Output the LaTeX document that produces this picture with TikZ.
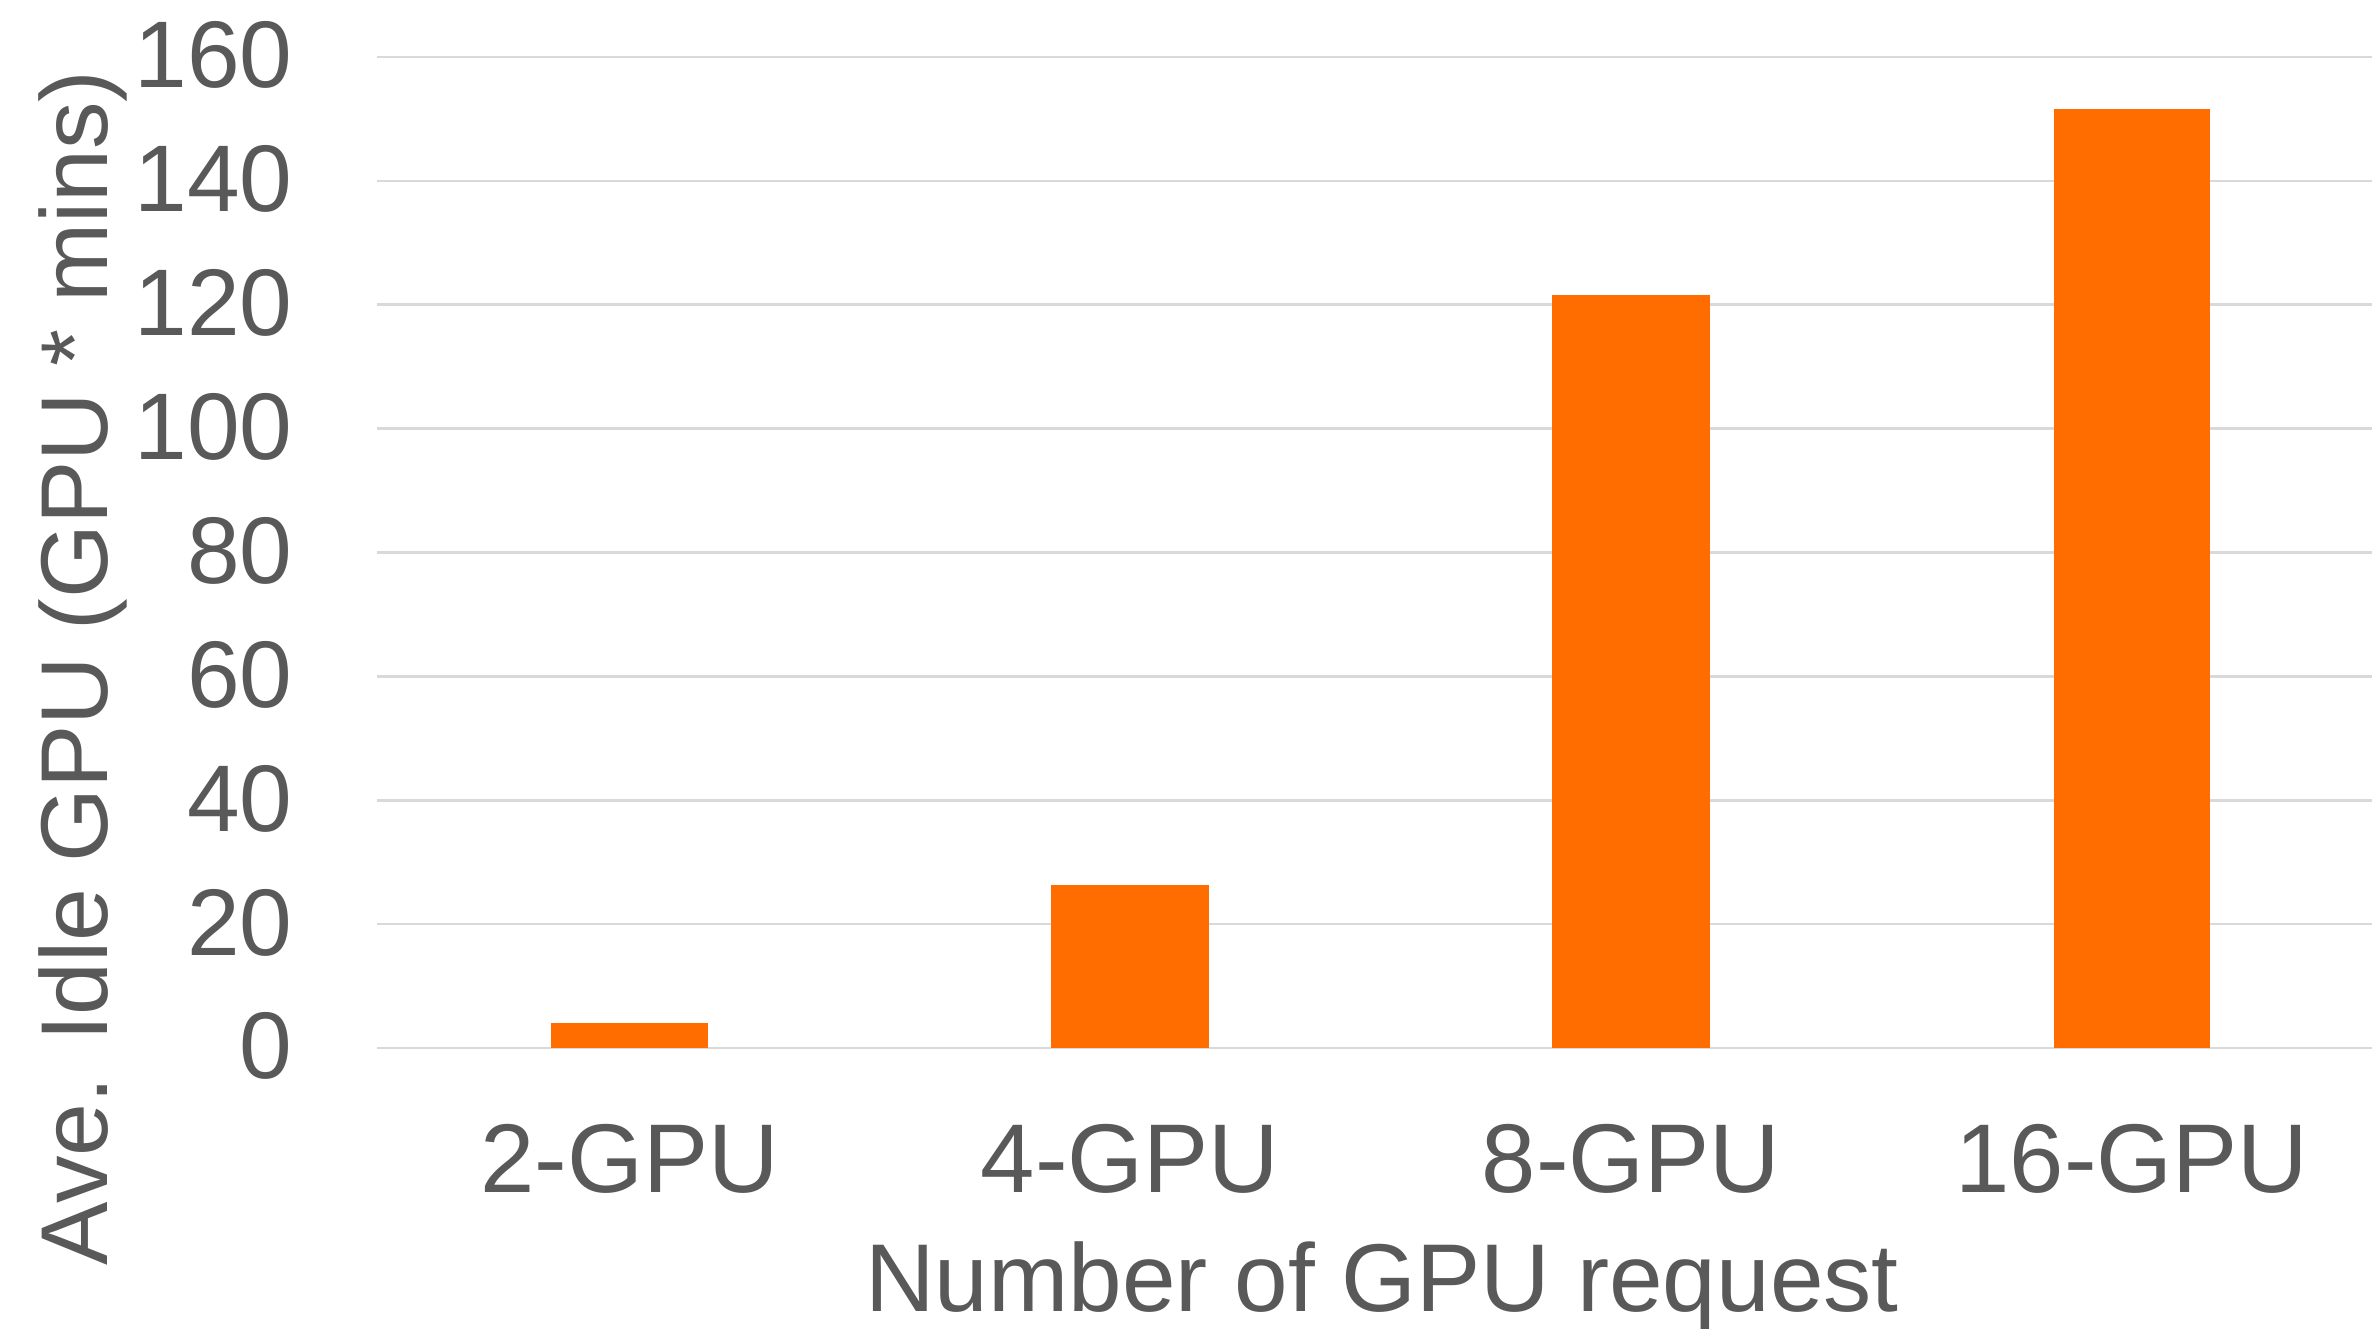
\documentclass[tikz,border=0pt]{standalone}
\usepackage{fontspec}
\setmainfont{Liberation Sans}
\definecolor{txt}{HTML}{595959}
\definecolor{grid}{HTML}{D9D9D9}
\definecolor{bar}{HTML}{FF6C00}
\begin{document}
\begin{tikzpicture}[x=0.3pt,y=-0.3pt,
  lbl/.style={text=txt,font=\fontsize{29.3pt}{34pt}\selectfont,inner sep=0pt},
  ticklbl/.style={lbl,font=\fontsize{28.4pt}{34pt}\selectfont},
  xtitle/.style={lbl,font=\fontsize{28.9pt}{34pt}\selectfont},
  ytitle/.style={lbl,font=\fontsize{28.5pt}{34pt}\selectfont},
  gridline/.style={draw=grid,line width=0.8pt},
  barfill/.style={fill=bar}]
\useasboundingbox[fill=white] (0,0) rectangle (2372,1329);
% gridlines
\foreach \v [count=\i from 0] in {0,20,40,60,80,100,120,140,160}{
  \pgfmathsetmacro{\gy}{1048-123.875*\i}
  \draw[gridline] (377,\gy) -- (2372,\gy);
  \node[ticklbl,anchor=base east] (t\v) at (293,\gy+31) {\v};
}
% bars
\fill[barfill] (551,1023) rectangle (708,1048);
\fill[barfill] (1051,885) rectangle (1209,1048);
\fill[barfill] (1552,295) rectangle (1710,1048);
\fill[barfill] (2054,109) rectangle (2210,1048);
% category labels
\node[lbl,anchor=base] (c2) at (629.5,1193) {2-GPU};
\node[lbl,anchor=base] (c4) at (1130,1193) {4-GPU};
\node[lbl,anchor=base] (c8) at (1631,1193) {8-GPU};
\node[lbl,anchor=base] (c16) at (2132,1193) {16-GPU};
% axis titles
\node[xtitle,anchor=base] (xt) at (1382,1312) {Number of GPU request};
\node[ytitle,anchor=base,rotate=90] (yt) at (107,668) {Ave. Idle GPU (GPU * mins)};
\end{tikzpicture}
\end{document}
